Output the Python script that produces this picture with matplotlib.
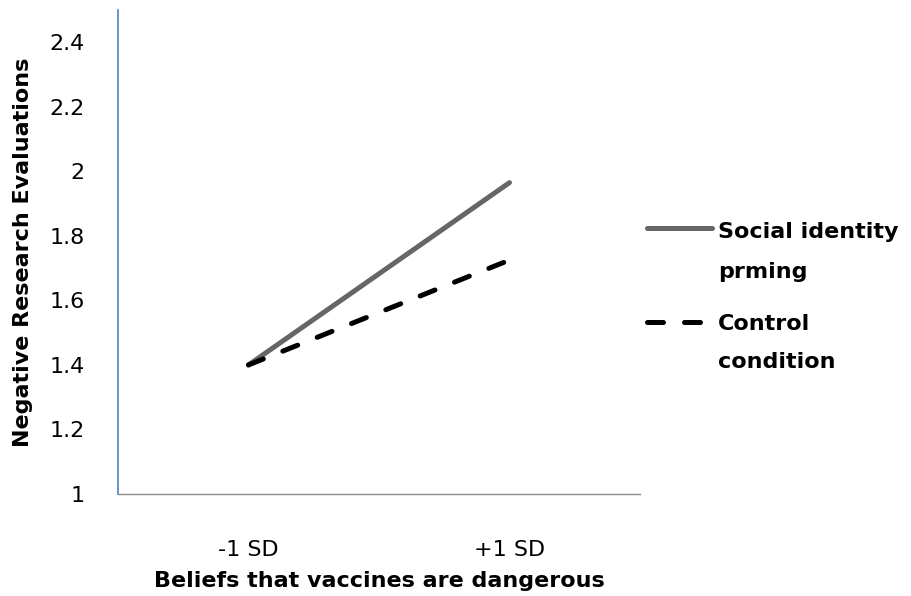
import matplotlib.pyplot as plt
from matplotlib.lines import Line2D

# Data
categories = ["-1 SD", "+1 SD"]
social_identity = [1.40, 1.965]
control = [1.40, 1.725]
series_labels = [["Social identity", "prming"], ["Control", "condition"]]

plt.rcParams['font.family'] = ['DejaVu Sans']

W, H = 912, 596
fig = plt.figure(figsize=(W / 100, H / 100), dpi=100)
ax = fig.add_axes([118 / W, 1 - 494 / H, 522 / W, 484 / H])

gray = '#666666'
x = [0, 1]
ax.plot(x, social_identity, color=gray, linewidth=3.6, solid_capstyle='round')
ax.plot(x, control, color='black', linewidth=3.6, dashes=(3.2, 4.2),
        dash_capstyle='round')

ax.set_xlim(-0.5, 1.5)
ax.set_ylim(1, 2.5)
ax.set_yticks([1, 1.2, 1.4, 1.6, 1.8, 2, 2.2, 2.4])
ax.set_yticklabels(["1", "1.2", "1.4", "1.6", "1.8", "2", "2.2", "2.4"])
ax.set_xticks(x)
ax.set_xticklabels(categories)
ax.tick_params(axis='both', length=0, labelsize=16)
ax.tick_params(axis='x', pad=33)
ax.tick_params(axis='y', pad=24)

for side in ['top', 'right']:
    ax.spines[side].set_visible(False)
ax.spines['left'].set_color('#4F81BD')
ax.spines['left'].set_linewidth(1.2)
ax.spines['bottom'].set_color('#8C8C8C')
ax.spines['bottom'].set_linewidth(1.0)

ax.set_xlabel("Beliefs that vaccines are dangerous", fontsize=16,
              fontweight='bold', labelpad=8)
ax.set_ylabel("Negative Research Evaluations", fontsize=16,
              fontweight='bold', labelpad=12)


# legend drawn by hand so the handle sits on the first text line (Excel style)
def fx(px):
    return px / W


def fy(py):
    return 1 - py / H


fig.add_artist(Line2D([fx(647.5), fx(712.5)], [fy(228), fy(228)],
                      transform=fig.transFigure, color=gray, linewidth=3.6,
                      solid_capstyle='round'))
fig.add_artist(Line2D([fx(647.5), fx(712.5)], [fy(322), fy(322)],
                      transform=fig.transFigure, color='black', linewidth=3.6,
                      dashes=(3.2, 4.2), dash_capstyle='round'))

baselines = [[238, 278], [330, 368]]
for lines, ys in zip(series_labels, baselines):
    for txt, yb in zip(lines, ys):
        fig.text(fx(718), fy(yb), txt, fontsize=16, fontweight='bold',
                 va='baseline', ha='left')

fig.savefig("out.png", dpi=100)
